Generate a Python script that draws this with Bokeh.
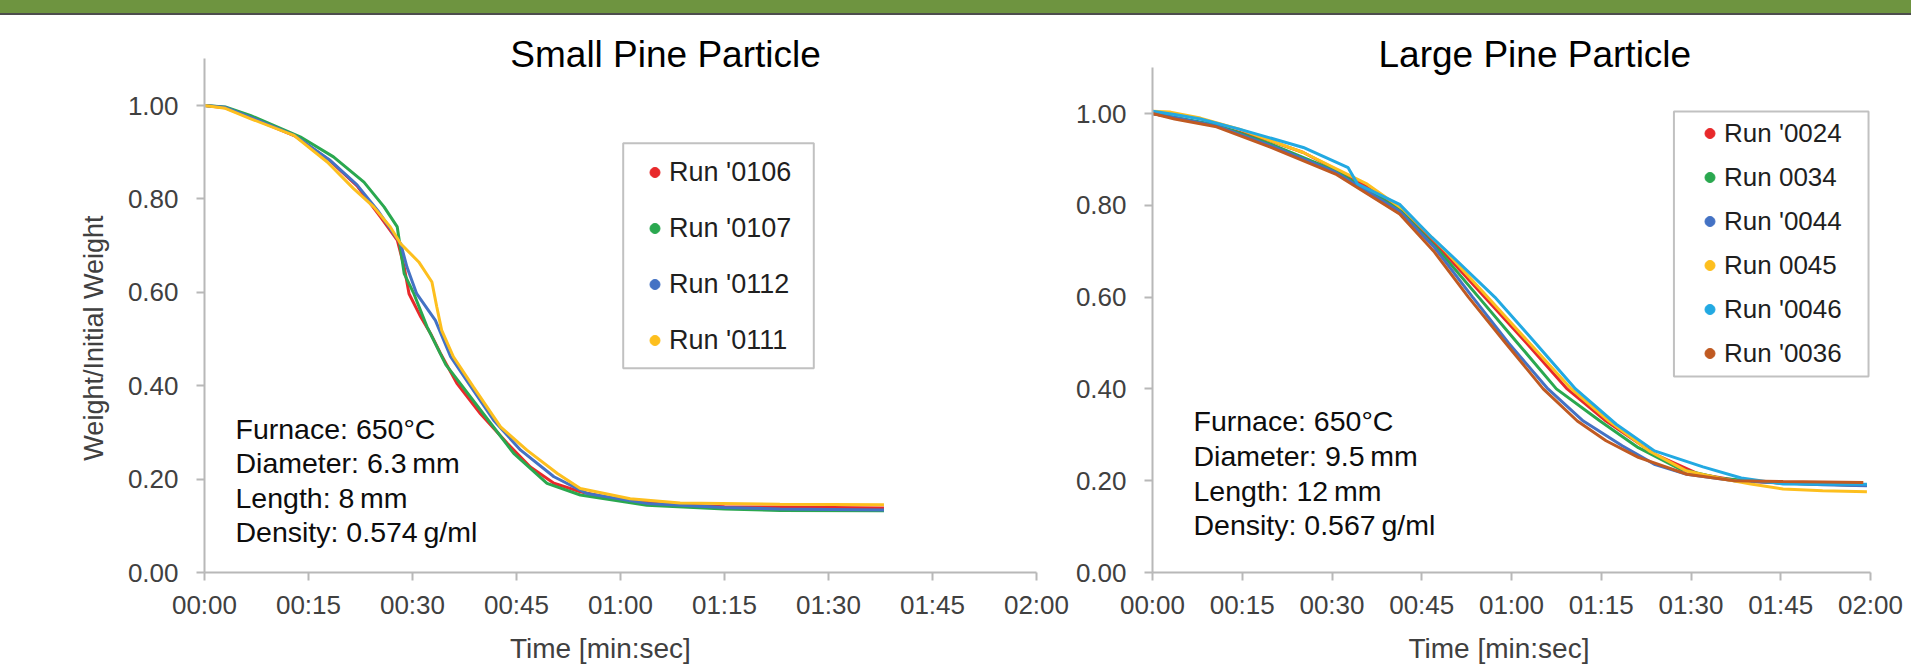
from math import pi
from bokeh.plotting import figure
from bokeh.models import (Range1d, FixedTicker, PrintfTickFormatter, Label, Legend,
                          LegendItem, BoxAnnotation, Div, ColumnDataSource)
from bokeh.layouts import row, column
from bokeh.embed import file_html
from bokeh.resources import INLINE

FONT = "Liberation Sans"

# ---------------- data ----------------
TIME_TICKS = [0, 15, 30, 45, 60, 75, 90, 105, 120]
TIME_LABELS = ["00:00", "00:15", "00:30", "00:45", "01:00", "01:15", "01:30", "01:45", "02:00"]
WEIGHT_TICKS = [0.0, 0.2, 0.4, 0.6, 0.8, 1.0]

SMALL_TITLE = "Small Pine Particle"
SMALL_RUNS = ["Run '0106", "Run '0107", "Run '0112", "Run '0111"]
SMALL_COLORS = ["#e8292b", "#2aa84f", "#4472c4", "#fdbf1e"]
SMALL_INFO = ["Furnace: 650°C", "Diameter: 6.3\u2009mm", "Length: 8\u2009mm", "Density: 0.574\u2009g/ml"]

s0106_t = [0, 3, 7, 13, 18, 22, 25.4, 27.8, 28.8, 29.5, 31.2, 32.6, 34.0, 36.4, 39.8, 43.7, 47.0, 50.4, 54.2, 59.0, 66.2, 75, 83, 98]
s0106_w = [1.0, 0.995, 0.972, 0.935, 0.883, 0.828, 0.761, 0.712, 0.654, 0.597, 0.547, 0.512, 0.470, 0.405, 0.340, 0.276, 0.226, 0.191, 0.173, 0.158, 0.146, 0.141, 0.140, 0.138]
s0107_t = [0, 3, 6.6, 13.8, 18.6, 23.0, 25.9, 27.8, 28.3, 28.8, 30.2, 32.1, 34.8, 39.8, 44.6, 49.4, 54.2, 63.8, 75, 83, 98]
s0107_w = [1.0, 0.997, 0.979, 0.933, 0.890, 0.836, 0.783, 0.740, 0.690, 0.640, 0.597, 0.526, 0.445, 0.348, 0.255, 0.191, 0.166, 0.144, 0.136, 0.133, 0.132]
s0112_t = [0, 3, 6.6, 13, 18, 22, 25, 28.3, 29.2, 30.6, 33.3, 35.5, 38.1, 41.7, 45.6, 50.4, 55.2, 63.8, 75, 83, 98]
s0112_w = [1.0, 0.996, 0.975, 0.936, 0.884, 0.830, 0.775, 0.704, 0.654, 0.597, 0.540, 0.462, 0.405, 0.326, 0.262, 0.205, 0.169, 0.148, 0.139, 0.136, 0.134]
s0111_t = [0, 3, 6.6, 12.9, 17.7, 21.5, 24.4, 26.8, 28.3, 30.9, 32.8, 33.5, 34.2, 35.9, 38.8, 42.7, 46.5, 50.9, 54.2, 61.4, 68.6, 83, 98]
s0111_w = [1.0, 0.994, 0.972, 0.936, 0.879, 0.822, 0.783, 0.740, 0.704, 0.665, 0.622, 0.569, 0.519, 0.462, 0.397, 0.312, 0.262, 0.212, 0.180, 0.158, 0.149, 0.146, 0.145]

LARGE_TITLE = "Large Pine Particle"
LARGE_RUNS = ["Run '0024", "Run 0034", "Run '0044", "Run 0045", "Run '0046", "Run '0036"]
LARGE_COLORS = ["#e8292b", "#2aa84f", "#4472c4", "#fdbf1e", "#22a9e2", "#c05a22"]
LARGE_INFO = ["Furnace: 650°C", "Diameter: 9.5\u2009mm", "Length: 12\u2009mm", "Density: 0.567\u2009g/ml"]

l0024_t = [0, 4, 10.7, 19.8, 25.2, 33.2, 41.3, 48.5, 55.5, 62.5, 69.3, 75.8, 83.9, 91.4, 98, 105, 112, 119.4]
l0024_w = [1.0, 0.99, 0.973, 0.940, 0.915, 0.861, 0.795, 0.70, 0.60, 0.50, 0.40, 0.330, 0.258, 0.214, 0.200, 0.195, 0.192, 0.19]
l0034_t = [0, 4, 10.7, 19.8, 30.6, 41.3, 48, 54.5, 61, 67.5, 74.8, 81.2, 88.2, 95, 105, 112, 119.4]
l0034_w = [1.0, 0.991, 0.975, 0.933, 0.875, 0.79, 0.70, 0.60, 0.50, 0.40, 0.330, 0.272, 0.225, 0.205, 0.195, 0.192, 0.19]
l0044_t = [0, 4, 10.7, 19.8, 30.6, 41.3, 47, 53.5, 59.5, 66.1, 72, 78.5, 84, 89.3, 97.3, 105.4, 112, 119.4]
l0044_w = [1.0, 0.99, 0.973, 0.93, 0.872, 0.787, 0.71, 0.60, 0.50, 0.40, 0.33, 0.276, 0.235, 0.214, 0.200, 0.195, 0.191, 0.189]
l0045_t = [0, 3, 8, 14.5, 25.2, 35.9, 42, 49, 56, 63, 70, 76.3, 83, 89.3, 95, 100, 105.4, 112, 119.4]
l0045_w = [1.005, 1.003, 0.99, 0.966, 0.915, 0.846, 0.79, 0.70, 0.60, 0.50, 0.40, 0.330, 0.265, 0.221, 0.205, 0.193, 0.182, 0.178, 0.176]
l0046_t = [0, 3.7, 8, 14.5, 25.2, 32.7, 34.3, 41.3, 46.7, 50, 57.2, 64, 70.7, 77.5, 83.9, 92, 98.4, 105.4, 112, 119.4]
l0046_w = [1.005, 0.998, 0.988, 0.966, 0.926, 0.882, 0.846, 0.802, 0.730, 0.69, 0.60, 0.50, 0.40, 0.323, 0.265, 0.230, 0.206, 0.193, 0.192, 0.192]
l0036_t = [0, 3.7, 10.7, 19.8, 30.6, 41.3, 47, 52.8, 59, 65.3, 71.0, 75.8, 81.2, 89.3, 97.3, 105.4, 112, 118.8]
l0036_w = [1.0, 0.988, 0.971, 0.926, 0.868, 0.781, 0.70, 0.60, 0.50, 0.40, 0.330, 0.287, 0.251, 0.214, 0.200, 0.198, 0.197, 0.196]

SMALL_SERIES = [(s0106_t, s0106_w), (s0107_t, s0107_w), (s0112_t, s0112_w), (s0111_t, s0111_w)]
LARGE_SERIES = [(l0024_t, l0024_w), (l0034_t, l0034_w), (l0044_t, l0044_w),
                (l0045_t, l0045_w), (l0046_t, l0046_w), (l0036_t, l0036_w)]

Y_LABEL = "Weight/Initial Weight"
X_LABEL = "Time [min:sec]"
T_MAX = 120
W_MAX = 1.1


def make_chart(fig_w, fig_h, x0, pps, y0, ppu, series, runs, colors,
               title, title_x, title_y, info, info_x, info_y0, info_step,
               leg_loc, leg_spacing, leg_font, box, xlab_x, xlab_y, ylab=False):
    # frame covers the whole figure; the axes sit at the data origin
    p = figure(width=fig_w, height=fig_h, output_backend="svg", toolbar_location=None,
               title=None,
               x_range=Range1d(-x0 / pps, (fig_w - x0) / pps),
               y_range=Range1d(-(fig_h - y0) / ppu, y0 / ppu),
               min_border_left=0, min_border_right=0,
               min_border_top=0, min_border_bottom=0)
    p.outline_line_color = None
    p.grid.visible = False
    p.background_fill_color = "white"
    p.border_fill_color = "white"

    for ax in (p.xaxis[0], p.yaxis[0]):
        ax.fixed_location = 0
        ax.axis_line_color = "#b8b8b8"
        ax.axis_line_width = 2
        ax.major_tick_line_color = "#b8b8b8"
        ax.major_tick_line_width = 2
        ax.major_tick_in = 0
        ax.major_tick_out = 8
        ax.minor_tick_line_color = None
        ax.major_label_text_font = FONT
        ax.major_label_text_font_size = "26px"
        ax.major_label_text_color = "#404040"
    p.xaxis.bounds = (0, T_MAX)
    p.yaxis.bounds = (0, W_MAX)
    p.xaxis.ticker = FixedTicker(ticks=TIME_TICKS)
    p.xaxis.major_label_overrides = {t: lab for t, lab in zip(TIME_TICKS, TIME_LABELS)}
    p.xaxis.major_label_standoff = 9
    p.yaxis.ticker = FixedTicker(ticks=WEIGHT_TICKS)
    p.yaxis.formatter = PrintfTickFormatter(format="%.2f")
    p.yaxis.major_label_standoff = 18

    items = []
    for (t, w), name, c in zip(series, runs, colors):
        p.line(t, w, line_color=c, line_width=3)
        # zero-size marker on the series' first point: only its legend glyph shows
        src = ColumnDataSource(data=dict(x=t[:1], y=w[:1]))
        dot = p.scatter("x", "y", source=src, size=0, fill_color=c, line_color=c)
        items.append(LegendItem(label=name, renderers=[dot]))

    leg = Legend(items=items, location=leg_loc, orientation="vertical",
                 padding=10, margin=0, spacing=leg_spacing,
                 glyph_width=25, glyph_height=32, label_height=32, label_standoff=2,
                 label_text_font=FONT, label_text_font_size=leg_font,
                 label_text_color="#1f1f1f",
                 border_line_alpha=0, background_fill_alpha=0)
    p.add_layout(leg, "center")
    p.add_layout(BoxAnnotation(left=box[0], right=box[1], bottom=box[2], top=box[3],
                               fill_alpha=0, line_color="#333333", line_width=2))

    p.add_layout(Label(x=title_x, y=title_y, text=title, text_align="center",
                       text_baseline="middle", text_font=FONT,
                       text_font_size="37px", text_color="#000000"))
    for i, line in enumerate(info):
        p.add_layout(Label(x=info_x, y=info_y0 - i * info_step, text=line,
                           text_align="left", text_baseline="middle",
                           text_font=FONT, text_font_size="28.5px", text_color="#0d0d0d"))
    p.add_layout(Label(x=xlab_x, y=xlab_y, text=X_LABEL, text_align="center",
                       text_baseline="middle", text_font=FONT, text_font_size="28px",
                       text_color="#404040"))
    if ylab:
        p.add_layout(Label(x=-16.0, y=0.502, text=Y_LABEL, angle=pi / 2,
                           text_align="center", text_baseline="middle",
                           text_font=FONT, text_font_size="27px", text_color="#404040"))
    return p


p1 = make_chart(1074, 651, 204, 832 / 120, 557, 467, SMALL_SERIES, SMALL_RUNS, SMALL_COLORS,
                SMALL_TITLE, 66.5, 1.110, SMALL_INFO, 4.47, 0.3073, 0.0734,
                (632, 300), 24, "27px", (60.39, 87.88, 0.4375, 0.9193), 57.1, -0.163, ylab=True)
p2 = make_chart(837, 651, 78, 718 / 120, 557, 459, LARGE_SERIES, LARGE_RUNS, LARGE_COLORS,
                LARGE_TITLE, 63.9, 1.129, LARGE_INFO, 6.85, 0.3298, 0.0756,
                (613, 287), 12, "26px", (87.15, 119.67, 0.427, 1.0044), 57.9, -0.166)

band = Div(width=1911, height=13, margin=0, styles={"background-color": "#6e9440"})
rule = Div(width=1911, height=2, margin=0, styles={"background-color": "#4d4d4d"})
layout = column(band, rule, row(p1, p2, spacing=0), spacing=0)

open("out.html", "w").write(file_html(layout, INLINE))
